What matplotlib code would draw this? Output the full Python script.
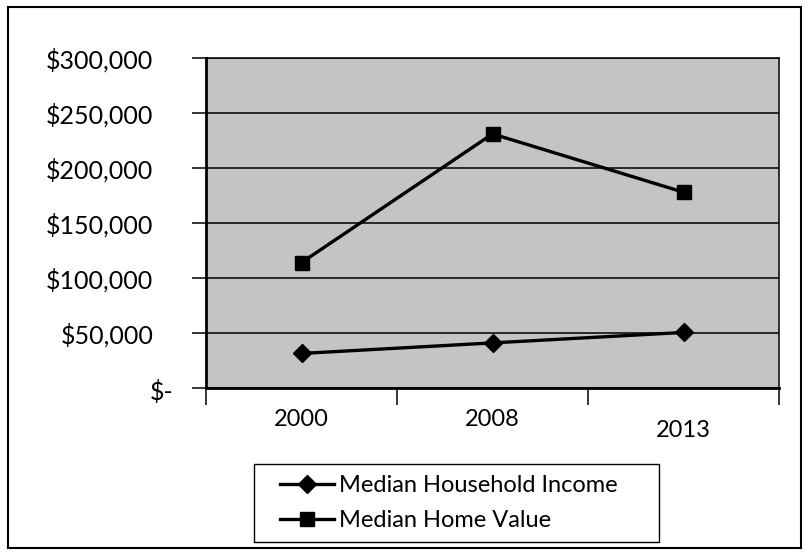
import matplotlib
matplotlib.use("Agg")
import matplotlib.pyplot as plt
from matplotlib.patches import Rectangle
from matplotlib.transforms import ScaledTranslation

years = ["2000", "2008", "2013"]
household_income = [31400, 41000, 50500]
home_value = [114000, 231000, 178000]
ytick_values = [0, 50000, 100000, 150000, 200000, 250000, 300000]
ytick_labels = ["$-", "$50,000", "$100,000", "$150,000", "$200,000", "$250,000", "$300,000"]

plt.rcParams['font.family'] = ['Lato', 'DejaVu Sans']

fig = plt.figure(figsize=(8.09, 5.52), dpi=100)
W, H = 809, 552
ax = fig.add_axes([206 / W, 1 - 388 / H, (779 - 206) / W, (388 - 58) / H])
ax.set_facecolor('#c4c4c4')

x = list(range(len(years)))
ax.plot(x, household_income, color='black', lw=2.4, marker='D', markersize=9,
        label='Median Household Income', zorder=3)
ax.plot(x, home_value, color='black', lw=2.4, marker='s', markersize=10,
        label='Median Home Value', zorder=3)

ax.set_xlim(-0.5, len(years) - 0.5)
ax.set_ylim(0, 300000)
ax.set_yticks(ytick_values)
ax.set_yticklabels(ytick_labels, fontsize=18)
ax.yaxis.grid(True, color='black', lw=1.1)
ax.set_axisbelow(True)
ax.tick_params(axis='y', length=10, width=1.1, pad=28, direction='out')

ax.set_xticks(x)
ax.set_xticklabels(years, fontsize=17)
ax.tick_params(axis='x', which='major', length=0, pad=15)
ax.set_xticks([i - 0.5 for i in range(len(years) + 1)], minor=True)
ax.tick_params(axis='x', which='minor', length=12, width=1.1, direction='out')

for s in ax.spines.values():
    s.set_color('black')
    s.set_linewidth(1.1)
ax.spines['left'].set_linewidth(2)
ax.spines['bottom'].set_linewidth(2)

# small offsets matching the reference layout
xl = ax.get_xticklabels()
xl[2].set_transform(xl[2].get_transform() + ScaledTranslation(0, -11 / 100, fig.dpi_scale_trans))
yl = ax.get_yticklabels()
yl[0].set_transform(yl[0].get_transform() + ScaledTranslation(20 / 100, -2 / 100, fig.dpi_scale_trans))

leg = fig.legend(loc='center left', bbox_to_anchor=(280 / W, 1 - 503 / H),
                 fontsize=17, frameon=False, handlelength=2.3, handletextpad=0.2,
                 labelspacing=0.6, borderpad=0, borderaxespad=0)

fig.patches.append(Rectangle((254 / W, 1 - 542 / H), (659 - 254) / W, (542 - 464) / H,
                             transform=fig.transFigure, fill=False, edgecolor='black', lw=1.0))
fig.patches.append(Rectangle((8 / W, 1 - 548 / H), (801 - 8) / W, (548 - 7) / H,
                             transform=fig.transFigure, fill=False, edgecolor='black', lw=1.5))

fig.savefig('out.png', dpi=100)
